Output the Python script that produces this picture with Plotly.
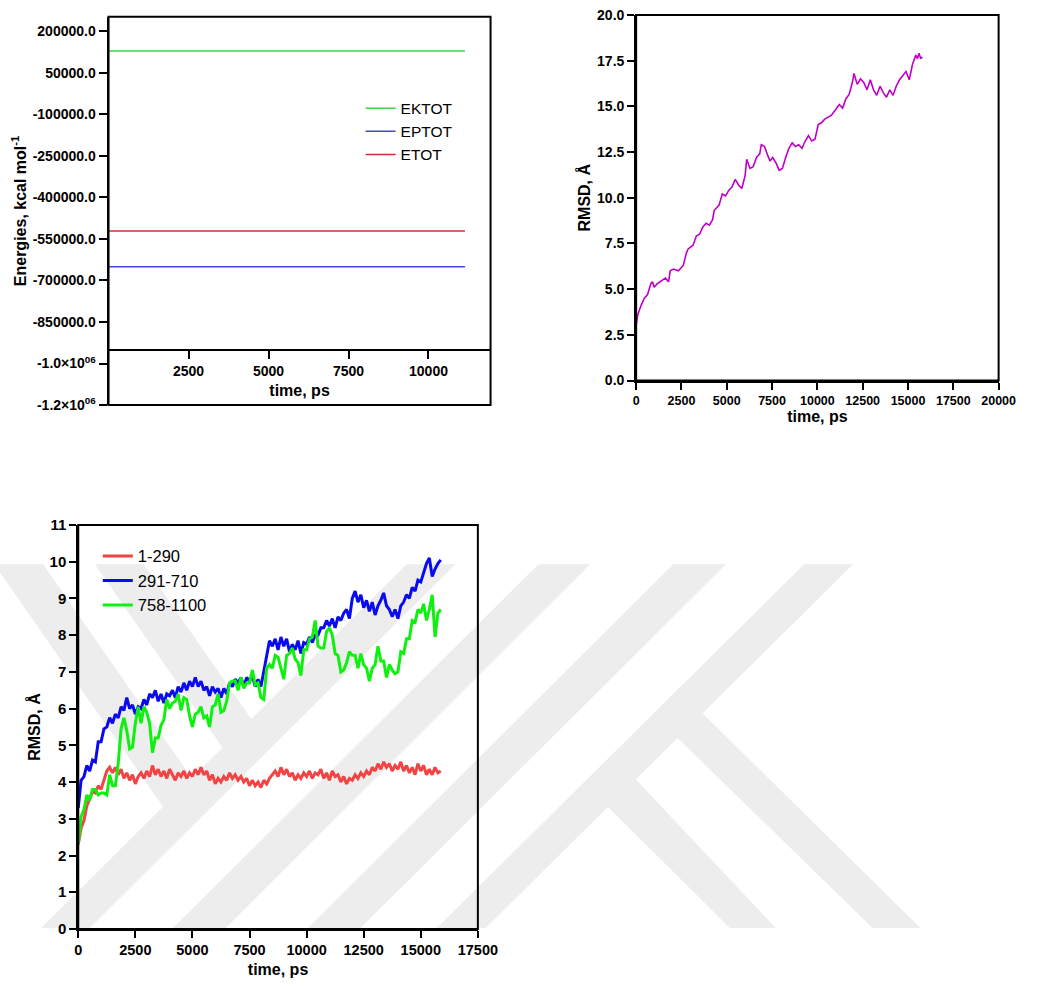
import plotly.graph_objects as go

W, H = 1045, 992

# ---------------- Panel 1: energies ----------------
energy_time = [0, 1000, 2000, 3000, 4000, 5000, 6000, 7000, 8000, 9000, 10000, 11000, 11140]
ektot = [129100, 128900, 129050, 128950, 129000, 129100, 128900, 129000, 129050, 128950, 129000, 129100, 129000]
eptot = [-650200, -649900, -650100, -650000, -649800, -650100, -650000, -650200, -649900, -650000, -650100, -649900, -650000]
etot = [-521100, -521000, -521050, -521050, -520800, -521000, -521100, -521200, -520850, -521050, -521100, -520800, -521000]
energy_tickvals = [200000, 50000, -100000, -250000, -400000, -550000, -700000, -850000, -1000000, -1150000]
energy_ticktext = ["200000.0", "50000.0", "-100000.0", "-250000.0", "-400000.0", "-550000.0",
                   "-700000.0", "-850000.0", "-1.0×10<sup>06</sup>", "-1.2×10<sup>06</sup>"]
energy_xticks = [2500, 5000, 7500, 10000]
energy_xaxis_cross = -950000

# ---------------- Panel 2: whole-protein RMSD ----------------
rmsd_time = [0, 90, 270, 450, 630, 810, 900, 990, 1170, 1435, 1615, 1790, 1880, 2060, 2330, 2510,
             2600, 2780, 2870, 3140, 3320, 3500, 3680, 3860, 4040, 4220, 4305, 4575, 4755, 4935,
             5110, 5290, 5470, 5650, 5830, 6010, 6100, 6280, 6460, 6640, 6820, 6905, 7085, 7265,
             7390, 7535, 7715, 7895, 8070, 8250, 8430, 8610, 8790, 8970, 9150, 9330, 9510, 9690,
             9870, 10045, 10225, 10405, 10585, 10765, 11030, 11210, 11390, 11570, 11750, 11930,
             12020, 12200, 12380, 12560, 12740, 12920, 13100, 13275, 13455, 13635, 13815, 13995,
             14175, 14350, 14530, 14710, 14890, 15070, 15250, 15430, 15520, 15610, 15700, 15785]
rmsd_val = [3.0, 3.6, 4.1, 4.5, 4.7, 5.3, 5.4, 5.1, 5.3, 5.5, 5.6, 5.4, 6.0, 6.1, 6.0, 6.2,
            6.3, 7.0, 7.2, 7.4, 7.9, 8.0, 8.4, 8.6, 8.5, 8.8, 9.3, 9.6, 10.2, 10.1,
            10.4, 10.6, 11.0, 10.7, 10.5, 11.2, 12.1, 11.6, 11.7, 12.2, 12.4, 12.9, 12.8, 12.3,
            12.0, 12.2, 11.9, 11.5, 11.6, 12.2, 12.7, 13.0, 12.8, 12.9, 12.7, 13.1, 13.4, 13.1,
            13.2, 14.0, 14.1, 14.3, 14.4, 14.5, 14.85, 15.1, 14.9, 15.4, 15.65, 16.3,
            16.8, 16.2, 16.5, 16.3, 15.9, 16.45, 15.9, 15.6, 16.1, 15.75, 15.5, 15.9,
            15.6, 16.1, 16.45, 16.7, 16.9, 16.45, 17.3, 17.8, 17.6, 17.9, 17.6, 17.7]

# ---------------- Panel 3: domain RMSD (sampled every 125 ps) ----------------
domain_step_ps = 125
res_1_290 = [2.3, 2.75, 2.95, 3.35, 3.55, 3.75, 3.7, 3.9, 3.8, 4.05,
             4.3, 4.4, 4.25, 4.4, 4.2, 4.35, 4.1, 4.25, 4.05, 4.2,
             3.95, 4.15, 4.25, 4.1, 4.3, 4.15, 4.45, 4.2, 4.35, 4.15,
             4.3, 4.1, 4.35, 4.2, 4.05, 4.25, 4.15, 4.3, 4.1, 4.25,
             4.15, 4.35, 4.2, 4.4, 4.2, 4.3, 4.05, 4.2, 3.95, 4.1,
             4.0, 4.15, 4.05, 4.25, 4.1, 4.2, 4.05, 4.15, 4.0, 4.1,
             3.9, 4.05, 3.9, 4.0, 3.85, 4.05, 3.95, 4.1, 4.2, 4.3,
             4.15, 4.4, 4.2, 4.35, 4.15, 4.25, 4.05, 4.2, 4.1, 4.25,
             4.15, 4.3, 4.1, 4.25, 4.2, 4.35, 4.1, 4.25, 4.05, 4.3,
             4.15, 4.2, 4.0, 4.15, 3.95, 4.1, 4.05, 4.2, 4.1, 4.25,
             4.15, 4.3, 4.2, 4.4, 4.3, 4.5, 4.35, 4.55, 4.4, 4.5,
             4.3, 4.45, 4.35, 4.55, 4.3, 4.45, 4.25, 4.4, 4.2, 4.5,
             4.3, 4.45, 4.2, 4.35, 4.2, 4.4, 4.25, 4.3]
res_291_710 = [3.3, 4.05, 4.15, 4.45, 4.3, 4.6, 4.55, 5.1, 5.1, 5.45,
               5.5, 5.75, 5.6, 5.85, 5.75, 6.05, 5.95, 6.3, 6.0, 6.1,
               5.85, 6.05, 6.0, 6.25, 6.1, 6.4, 6.3, 6.5, 6.2, 6.4,
               6.15, 6.4, 6.35, 6.5, 6.3, 6.6, 6.45, 6.7, 6.5, 6.75,
               6.6, 6.85, 6.6, 6.75, 6.5, 6.6, 6.35, 6.6, 6.45, 6.55,
               6.3, 6.55, 6.4, 6.7, 6.6, 6.8, 6.7, 6.85, 6.6, 6.85,
               6.75, 6.9, 6.6, 6.8, 6.6, 7.0, 7.35, 7.85, 7.7, 7.9,
               7.6, 7.95, 7.7, 7.9, 7.55, 7.75, 7.6, 7.85, 7.5, 7.8,
               7.75, 7.95, 7.8, 8.0, 8.0, 8.2, 8.2, 8.4, 8.25, 8.45,
               8.2, 8.5, 8.4, 8.6, 8.7, 8.45, 9.0, 9.2, 8.9, 9.1,
               8.75, 8.95, 8.65, 8.9, 8.55, 8.8, 8.95, 9.15, 8.8, 8.7,
               8.5, 8.7, 8.45, 8.8, 8.9, 9.1, 9.0, 9.3, 9.2, 9.5,
               9.45, 9.7, 9.95, 10.1, 9.6, 9.8, 9.95, 10.05]
res_758_1100 = [2.3, 3.05, 3.25, 3.65, 3.5, 3.8, 3.8, 3.65, 3.7, 3.7,
                3.65, 4.2, 3.9, 3.9, 4.5, 5.45, 5.75, 5.4, 4.9, 4.95,
                5.6, 6.05, 5.6, 6.05, 5.9, 5.6, 4.8, 5.2, 5.2, 5.55,
                5.7, 6.25, 6.0, 6.15, 6.2, 6.4, 5.95, 6.3, 6.25, 5.8,
                5.5, 5.85, 5.9, 6.05, 5.75, 5.8, 5.5, 6.05, 6.1, 6.4,
                5.9, 5.95, 6.2, 6.7, 6.75, 6.75, 6.5, 6.85, 6.55, 6.7,
                6.7, 7.05, 6.65, 6.7, 6.3, 6.25, 7.1, 7.2, 7.1, 7.45,
                7.4, 7.1, 6.8, 7.45, 7.5, 7.65, 7.35, 7.25, 6.9, 7.6,
                7.6, 7.9, 7.95, 8.4, 7.7, 7.65, 7.65, 8.1, 8.2, 8.0,
                7.5, 7.45, 7.0, 7.05, 7.25, 7.55, 7.45, 7.45, 7.1, 7.5,
                7.2, 7.1, 6.75, 7.1, 7.2, 7.7, 7.3, 7.3, 6.85, 7.2,
                7.05, 6.95, 7.0, 7.55, 7.5, 7.9, 7.9, 8.4, 8.35, 8.7,
                8.6, 8.85, 8.4, 8.7, 9.1, 7.95, 8.6, 8.7]
domain_time = [i * domain_step_ps for i in range(len(res_1_290))]

FONT = "Arial, 'Liberation Sans', sans-serif"
BOLD = dict(family=FONT, size=14, color="black", weight="bold")


def px(x):
    return x / W


def py(y):
    return 1 - y / H


fig = go.Figure()

# Panel 1 traces
fig.add_trace(go.Scatter(x=energy_time, y=ektot, mode="lines", name="EKTOT",
                         line=dict(color="#44D444", width=1.5), xaxis="x", yaxis="y", legend="legend"))
fig.add_trace(go.Scatter(x=energy_time, y=eptot, mode="lines", name="EPTOT",
                         line=dict(color="#4444D8", width=1.5), xaxis="x", yaxis="y", legend="legend"))
fig.add_trace(go.Scatter(x=energy_time, y=etot, mode="lines", name="ETOT",
                         line=dict(color="#C83232", width=1.5), xaxis="x", yaxis="y", legend="legend"))

# Panel 2 trace
fig.add_trace(go.Scatter(x=rmsd_time, y=rmsd_val, mode="lines", showlegend=False,
                         line=dict(color="#C000C8", width=1.6), xaxis="x2", yaxis="y2"))

# Panel 3 traces
fig.add_trace(go.Scatter(x=domain_time, y=res_1_290, mode="lines", name="1-290",
                         line=dict(color="#F24444", width=3), xaxis="x3", yaxis="y3", legend="legend2"))
fig.add_trace(go.Scatter(x=domain_time, y=res_291_710, mode="lines", name="291-710",
                         line=dict(color="#0A0AF0", width=3), xaxis="x3", yaxis="y3", legend="legend2"))
fig.add_trace(go.Scatter(x=domain_time, y=res_758_1100, mode="lines", name="758-1100",
                         line=dict(color="#10F010", width=3), xaxis="x3", yaxis="y3", legend="legend2"))

# Geometry (pixel boxes of the plot areas)
p1 = dict(x0=107, x1=498, y0=8, y1=403)
p2 = dict(x0=647, x1=1018, y0=6, y1=378)
p3 = dict(x0=76, x1=485, y0=525, y1=936)

y1_range = [-1150000, 252000]
y1_dom = [py(p1["y1"]), py(p1["y0"])]
x1_pos = y1_dom[0] + (energy_xaxis_cross - y1_range[0]) / (y1_range[1] - y1_range[0]) * (y1_dom[1] - y1_dom[0])

common_ax = dict(showgrid=False, zeroline=False, showline=True, linecolor="black", linewidth=2,
                 ticks="outside", tickcolor="black", tickwidth=2, ticklen=7,
                 tickfont=dict(BOLD), title_font=dict(family=FONT, size=16, color="black", weight="bold"))

fig.update_layout(
    width=W, height=H, autosize=False, margin=dict(l=0, r=0, t=0, b=0, pad=0),
    paper_bgcolor="white", plot_bgcolor="rgba(0,0,0,0)",
    font=dict(family=FONT, color="black"),
    xaxis=dict(common_ax, domain=[px(p1["x0"]), px(p1["x1"])], anchor="free", position=x1_pos,
               range=[0, 11940], tickvals=energy_xticks, tickformat="d", ticklen=8,
               title=dict(text="time, ps", standoff=6)),
    yaxis=dict(common_ax, domain=y1_dom, anchor="x", range=y1_range,
               tickvals=energy_tickvals, ticktext=energy_ticktext, ticklen=8,
               title=dict(text="Energies, kcal mol<sup>-1</sup>", standoff=2)),
    xaxis2=dict(common_ax, domain=[px(p2["x0"]), px(p2["x1"])], anchor="y2",
                range=[0, 20000], tickvals=list(range(0, 20001, 2500)), tickformat="d",
                tickfont=dict(BOLD, size=12.5),
                title=dict(text="time, ps", standoff=4)),
    yaxis2=dict(common_ax, domain=[py(p2["y1"]), py(p2["y0"])], anchor="x2",
                range=[0, 20], tickvals=[0, 2.5, 5, 7.5, 10, 12.5, 15, 17.5, 20], tickformat=".1f",
                title=dict(text="RMSD, Å", standoff=2)),
    xaxis3=dict(common_ax, domain=[px(p3["x0"]), px(p3["x1"])], anchor="y3",
                range=[0, 17500], tickvals=list(range(0, 17501, 2500)), tickformat="d",
                tickfont=dict(BOLD, size=14.5),
                title=dict(text="time, ps", standoff=6)),
    yaxis3=dict(common_ax, domain=[py(p3["y1"]), py(p3["y0"])], anchor="x3",
                range=[0, 11], tickvals=list(range(0, 12)),
                tickfont=dict(BOLD, size=15),
                title=dict(text="RMSD, Å", standoff=5)),
    legend=dict(x=px(365), y=py(84), xanchor="left", yanchor="top", bgcolor="rgba(0,0,0,0)",
                font=dict(family=FONT, size=15.5, color="black"), itemwidth=30, tracegroupgap=0),
    legend2=dict(x=px(96), y=py(539), xanchor="left", yanchor="top", bgcolor="rgba(0,0,0,0)",
                 font=dict(family=FONT, size=16.5, color="black"), itemwidth=30, tracegroupgap=0),
)

shapes = []
# faint background watermark (decorative), in page pixels
watermark = [
    [(412, 565), (462, 565), (88, 935), (38, 935)],
    [(547, 565), (600, 565), (227, 935), (173, 935)],
    [(685, 565), (739, 565), (365, 935), (311, 935)],
    [(819, 565), (869, 565), (493, 935), (443, 935)],
    [(-10, 565), (40, 565), (201, 795), (172, 825)],
    [(93, 565), (143, 565), (262, 735), (233, 765)],
    [(598, 792), (627, 763), (790, 935), (743, 935)],
    [(670, 723), (696, 698), (938, 935), (889, 935)],
]
for poly in watermark:
    path = "M " + " L ".join(f"{px(x):.5f},{py(y):.5f}" for x, y in poly) + " Z"
    shapes.append(dict(type="path", xref="paper", yref="paper", path=path,
                       fillcolor="#EDEDED", line=dict(width=0), layer="below"))

# frames around each plot area
for xa, ya in (("x", "y"), ("x2", "y2"), ("x3", "y3")):
    shapes.append(dict(type="rect", xref=f"{xa} domain", yref=f"{ya} domain", x0=0, x1=1, y0=0, y1=1,
                       line=dict(color="black", width=2), fillcolor="rgba(0,0,0,0)", layer="above"))

fig.update_layout(shapes=shapes)

fig.write_html("out.html", config={"displayModeBar": False})
